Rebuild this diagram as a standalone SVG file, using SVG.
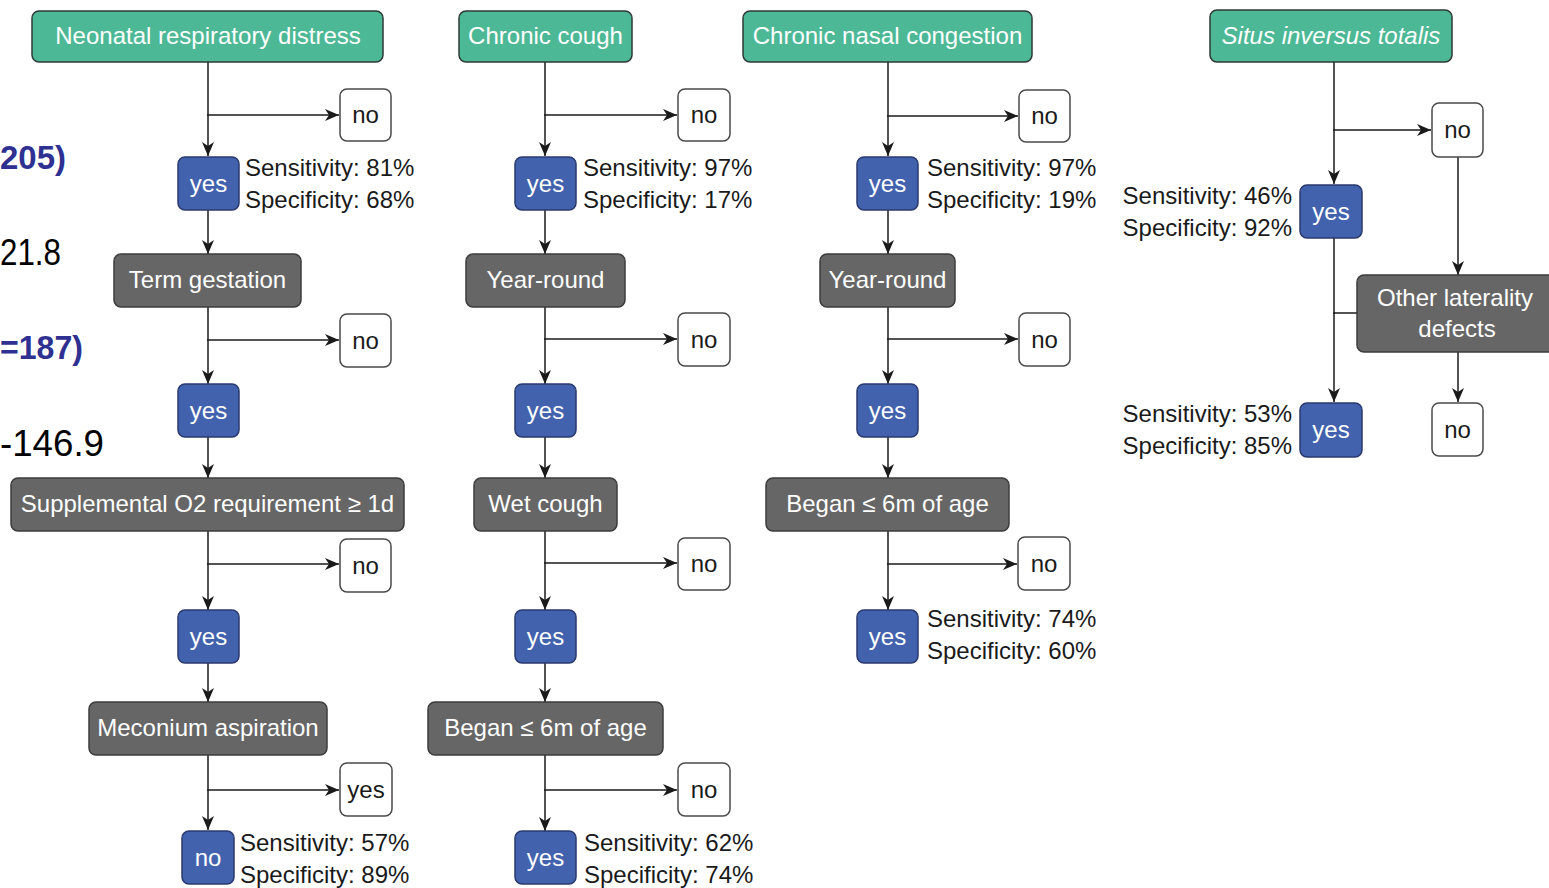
<svg xmlns="http://www.w3.org/2000/svg" width="1549" height="888" viewBox="0 0 1549 888">
<defs>
<marker id="ah" viewBox="0 0 14 12" refX="14" refY="6" markerWidth="14" markerHeight="12" markerUnits="userSpaceOnUse" orient="auto">
<path d="M0,0 L14,6 L0,12 L4,6 z" fill="#1a1a1a"/>
</marker>
<style>
.g{fill:#4cb896;stroke:#2f3a36;stroke-width:1.5}
.d{fill:#666666;stroke:#3c3c3c;stroke-width:1.5}
.b{fill:#4262ad;stroke:#2a3a6e;stroke-width:1.5}
.w{fill:#ffffff;stroke:#4a4a4a;stroke-width:1.5}
text{font-family:"Liberation Sans",Arial,sans-serif;font-size:24px}
.t{fill:#ffffff;text-anchor:middle}
.k{fill:#1a1a1a;text-anchor:middle}
.s{fill:#1a1a1a}
.e{fill:#1a1a1a;text-anchor:end}
.c line,.c path{stroke:#1a1a1a;stroke-width:1.5;fill:none}
.a{marker-end:url(#ah)}
.bl{fill:#2e3192;font-weight:bold;font-size:34px}
.bk{fill:#000000;font-size:36px}
</style>
</defs>
<rect width="1549" height="888" fill="#ffffff"/>

<g id="residual">
<text class="bl" x="0" y="169" textLength="66" lengthAdjust="spacingAndGlyphs">205)</text>
<text class="bk" x="0" y="265" textLength="61" lengthAdjust="spacingAndGlyphs">21.8</text>
<text class="bl" x="0" y="359" textLength="83" lengthAdjust="spacingAndGlyphs">=187)</text>
<text class="bk" x="0" y="456" textLength="104" lengthAdjust="spacingAndGlyphs">-146.9</text>
</g>

<g class="c" id="connectors">
<!-- column 1 -->
<line class="a" x1="208" y1="62" x2="208" y2="156"/>
<line class="a" x1="207" y1="115" x2="339" y2="115"/>
<line class="a" x1="208" y1="210" x2="208" y2="254"/>
<line class="a" x1="208" y1="307" x2="208" y2="384"/>
<line class="a" x1="207" y1="340" x2="339" y2="340"/>
<line class="a" x1="208" y1="437" x2="208" y2="478"/>
<line class="a" x1="208" y1="531" x2="208" y2="610"/>
<line class="a" x1="207" y1="564" x2="339" y2="564"/>
<line class="a" x1="208" y1="662" x2="208" y2="702"/>
<line class="a" x1="208" y1="755" x2="208" y2="830"/>
<line class="a" x1="207" y1="790" x2="339" y2="790"/>
<!-- column 2 -->
<line class="a" x1="545" y1="62" x2="545" y2="156"/>
<line class="a" x1="544" y1="115" x2="677" y2="115"/>
<line class="a" x1="545" y1="210" x2="545" y2="254"/>
<line class="a" x1="545" y1="307" x2="545" y2="384"/>
<line class="a" x1="544" y1="339" x2="677" y2="339"/>
<line class="a" x1="545" y1="437" x2="545" y2="478"/>
<line class="a" x1="545" y1="531" x2="545" y2="610"/>
<line class="a" x1="544" y1="563" x2="677" y2="563"/>
<line class="a" x1="545" y1="662" x2="545" y2="702"/>
<line class="a" x1="545" y1="755" x2="545" y2="831"/>
<line class="a" x1="544" y1="790" x2="677" y2="790"/>
<!-- column 3 -->
<line class="a" x1="888" y1="62" x2="888" y2="156"/>
<line class="a" x1="887" y1="116" x2="1018" y2="116"/>
<line class="a" x1="888" y1="210" x2="888" y2="254"/>
<line class="a" x1="888" y1="307" x2="888" y2="384"/>
<line class="a" x1="887" y1="339" x2="1018" y2="339"/>
<line class="a" x1="888" y1="437" x2="888" y2="478"/>
<line class="a" x1="888" y1="531" x2="888" y2="610"/>
<line class="a" x1="887" y1="564" x2="1017" y2="564"/>
<!-- column 4 -->
<line class="a" x1="1334" y1="62" x2="1334" y2="184"/>
<line class="a" x1="1333" y1="130" x2="1431" y2="130"/>
<line class="a" x1="1458" y1="157" x2="1458" y2="275"/>
<line class="a" x1="1334" y1="238" x2="1334" y2="402"/>
<line x1="1333" y1="313" x2="1357" y2="313"/>
<line class="a" x1="1458" y1="352" x2="1458" y2="402"/>
</g>

<!-- column 1 nodes -->
<g id="n1_title"><rect class="g" x="32" y="11" width="351" height="51" rx="7"/><text class="t" x="208" y="44">Neonatal respiratory distress</text></g>
<g id="n1_no1"><rect class="w" x="340" y="89" width="51" height="52" rx="7"/><text class="k" x="365.5" y="123">no</text></g>
<g id="n1_yes1"><rect class="b" x="178" y="157" width="61" height="53" rx="7"/><text class="t" x="208.5" y="192">yes</text></g>
<g id="n1_stat1"><text class="s" x="245" y="176">Sensitivity: 81%</text><text class="s" x="245" y="208">Specificity: 68%</text></g>
<g id="n1_term"><rect class="d" x="114" y="254" width="187" height="53" rx="7"/><text class="t" x="207.5" y="288">Term gestation</text></g>
<g id="n1_no2"><rect class="w" x="340" y="314" width="51" height="53" rx="7"/><text class="k" x="365.5" y="349">no</text></g>
<g id="n1_yes2"><rect class="b" x="178" y="384" width="61" height="53" rx="7"/><text class="t" x="208.5" y="419">yes</text></g>
<g id="n1_supp"><rect class="d" x="11" y="478" width="393" height="53" rx="7"/><text class="t" x="207.5" y="512">Supplemental O2 requirement ≥ 1d</text></g>
<g id="n1_no3"><rect class="w" x="340" y="539" width="51" height="53" rx="7"/><text class="k" x="365.5" y="574">no</text></g>
<g id="n1_yes3"><rect class="b" x="178" y="610" width="61" height="53" rx="7"/><text class="t" x="208.5" y="645">yes</text></g>
<g id="n1_mec"><rect class="d" x="89" y="702" width="238" height="53" rx="7"/><text class="t" x="208" y="736">Meconium aspiration</text></g>
<g id="n1_yes4"><rect class="w" x="340" y="763" width="52" height="53" rx="7"/><text class="k" x="366" y="798">yes</text></g>
<g id="n1_no4"><rect class="b" x="182" y="831" width="52" height="53" rx="7"/><text class="t" x="208" y="866">no</text></g>
<g id="n1_stat2"><text class="s" x="240" y="851">Sensitivity: 57%</text><text class="s" x="240" y="883">Specificity: 89%</text></g>

<!-- column 2 nodes -->
<g id="n2_title"><rect class="g" x="459" y="11" width="173" height="51" rx="7"/><text class="t" x="545.5" y="44">Chronic cough</text></g>
<g id="n2_no1"><rect class="w" x="678" y="89" width="52" height="52" rx="7"/><text class="k" x="704" y="123">no</text></g>
<g id="n2_yes1"><rect class="b" x="515" y="157" width="61" height="53" rx="7"/><text class="t" x="545.5" y="192">yes</text></g>
<g id="n2_stat1"><text class="s" x="583" y="176">Sensitivity: 97%</text><text class="s" x="583" y="208">Specificity: 17%</text></g>
<g id="n2_year"><rect class="d" x="466" y="254" width="159" height="53" rx="7"/><text class="t" x="545.5" y="288">Year-round</text></g>
<g id="n2_no2"><rect class="w" x="678" y="313" width="52" height="53" rx="7"/><text class="k" x="704" y="348">no</text></g>
<g id="n2_yes2"><rect class="b" x="515" y="384" width="61" height="53" rx="7"/><text class="t" x="545.5" y="419">yes</text></g>
<g id="n2_wet"><rect class="d" x="474" y="478" width="143" height="53" rx="7"/><text class="t" x="545.5" y="512">Wet cough</text></g>
<g id="n2_no3"><rect class="w" x="678" y="538" width="52" height="52" rx="7"/><text class="k" x="704" y="572">no</text></g>
<g id="n2_yes3"><rect class="b" x="515" y="610" width="61" height="53" rx="7"/><text class="t" x="545.5" y="645">yes</text></g>
<g id="n2_began"><rect class="d" x="428" y="702" width="235" height="53" rx="7"/><text class="t" x="545.5" y="736">Began ≤ 6m of age</text></g>
<g id="n2_no4"><rect class="w" x="678" y="763" width="52" height="53" rx="7"/><text class="k" x="704" y="798">no</text></g>
<g id="n2_yes4"><rect class="b" x="515" y="831" width="61" height="53" rx="7"/><text class="t" x="545.5" y="866">yes</text></g>
<g id="n2_stat2"><text class="s" x="584" y="851">Sensitivity: 62%</text><text class="s" x="584" y="883">Specificity: 74%</text></g>

<!-- column 3 nodes -->
<g id="n3_title"><rect class="g" x="743" y="11" width="289" height="51" rx="7"/><text class="t" x="887.5" y="44">Chronic nasal congestion</text></g>
<g id="n3_no1"><rect class="w" x="1019" y="90" width="51" height="52" rx="7"/><text class="k" x="1044.5" y="124">no</text></g>
<g id="n3_yes1"><rect class="b" x="857" y="157" width="61" height="53" rx="7"/><text class="t" x="887.5" y="192">yes</text></g>
<g id="n3_stat1"><text class="s" x="927" y="176">Sensitivity: 97%</text><text class="s" x="927" y="208">Specificity: 19%</text></g>
<g id="n3_year"><rect class="d" x="820" y="254" width="135" height="53" rx="7"/><text class="t" x="887.5" y="288">Year-round</text></g>
<g id="n3_no2"><rect class="w" x="1019" y="313" width="51" height="53" rx="7"/><text class="k" x="1044.5" y="348">no</text></g>
<g id="n3_yes2"><rect class="b" x="857" y="384" width="61" height="53" rx="7"/><text class="t" x="887.5" y="419">yes</text></g>
<g id="n3_began"><rect class="d" x="766" y="478" width="243" height="53" rx="7"/><text class="t" x="887.5" y="512">Began ≤ 6m of age</text></g>
<g id="n3_no3"><rect class="w" x="1018" y="537" width="52" height="53" rx="7"/><text class="k" x="1044" y="572">no</text></g>
<g id="n3_yes3"><rect class="b" x="857" y="610" width="61" height="53" rx="7"/><text class="t" x="887.5" y="645">yes</text></g>
<g id="n3_stat2"><text class="s" x="927" y="627">Sensitivity: 74%</text><text class="s" x="927" y="659">Specificity: 60%</text></g>

<!-- column 4 nodes -->
<g id="n4_title"><rect class="g" x="1210" y="10" width="242" height="52" rx="7"/><text class="t" x="1331" y="44" font-style="italic">Situs inversus totalis</text></g>
<g id="n4_no1"><rect class="w" x="1432" y="103" width="51" height="54" rx="7"/><text class="k" x="1457.5" y="138">no</text></g>
<g id="n4_yes1"><rect class="b" x="1300" y="185" width="62" height="53" rx="7"/><text class="t" x="1331" y="220">yes</text></g>
<g id="n4_stat1"><text class="e" x="1292" y="204">Sensitivity: 46%</text><text class="e" x="1292" y="236">Specificity: 92%</text></g>
<g id="n4_other"><rect class="d" x="1357" y="275" width="205" height="77" rx="7"/><text class="t" x="1455" y="306">Other laterality</text><text class="t" x="1457" y="337">defects</text></g>
<g id="n4_yes2"><rect class="b" x="1300" y="403" width="62" height="54" rx="7"/><text class="t" x="1331" y="438">yes</text></g>
<g id="n4_stat2"><text class="e" x="1292" y="422">Sensitivity: 53%</text><text class="e" x="1292" y="454">Specificity: 85%</text></g>
<g id="n4_no2"><rect class="w" x="1432" y="403" width="51" height="53" rx="7"/><text class="k" x="1457.5" y="438">no</text></g>
</svg>
